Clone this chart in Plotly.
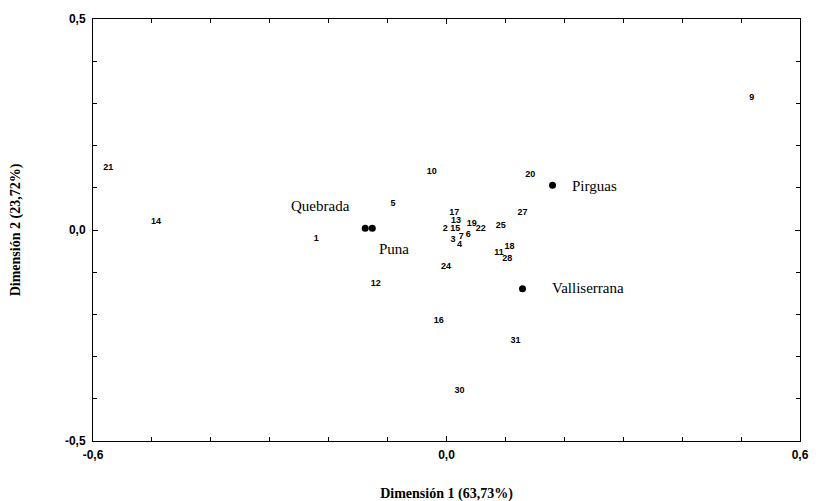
import plotly.graph_objects as go

# Numbered observations
obs_labels = ["21", "14", "1", "5", "12", "10", "17", "13", "2", "15", "7", "6", "3", "4",
              "19", "22", "25", "27", "18", "11", "28", "24", "20", "16", "31", "30", "9"]
obs_x = [-0.574, -0.493, -0.221, -0.091, -0.120, -0.025, 0.013, 0.016, -0.002, 0.015, 0.025, 0.037, 0.011, 0.022,
         0.043, 0.058, 0.092, 0.129, 0.107, 0.089, 0.103, -0.001, 0.142, -0.013, 0.117, 0.022, 0.518]
obs_y = [0.148, 0.019, -0.020, 0.063, -0.127, 0.137, 0.042, 0.022, 0.002, 0.002, -0.015, -0.011, -0.024, -0.036,
         0.014, 0.002, 0.011, 0.040, -0.039, -0.054, -0.068, -0.087, 0.132, -0.216, -0.263, -0.380, 0.313]

# Group centroids
group_names = ["Quebrada", "Puna", "Pirguas", "Valliserrana"]
group_x = [-0.138, -0.126, 0.180, 0.129]
group_y = [0.004, 0.004, 0.106, -0.139]

x_ticks = [-0.6, 0.0, 0.6]
x_ticktext = ["-0,6", "0,0", "0,6"]
y_ticks = [-0.5, 0.0, 0.5]
y_ticktext = ["-0,5", "0,0", "0,5"]

fig = go.Figure()
fig.add_trace(go.Scatter(
    x=obs_x, y=obs_y, mode="text", text=obs_labels, textposition="middle center",
    textfont=dict(family="Liberation Sans", size=9, color="black", weight="bold"),
    showlegend=False, hoverinfo="skip"))
fig.add_trace(go.Scatter(
    x=group_x, y=group_y, mode="markers",
    marker=dict(size=7, color="black"), showlegend=False, hoverinfo="skip"))

label_style = {
    "Quebrada": dict(xanchor="right", xshift=-13, yshift=22),
    "Puna": dict(xanchor="left", xshift=5, yshift=-21),
    "Pirguas": dict(xanchor="left", xshift=17, yshift=-1),
    "Valliserrana": dict(xanchor="left", xshift=27, yshift=1),
}
for name, gx, gy in zip(group_names, group_x, group_y):
    fig.add_annotation(x=gx, y=gy, text=name, showarrow=False, yanchor="middle",
                       font=dict(family="Liberation Serif", size=15, color="black"),
                       **label_style[name])

axis_common = dict(
    showgrid=False, zeroline=False, showline=True, linecolor="black", linewidth=1,
    mirror="allticks", ticks="inside", ticklen=5, tickcolor="black", automargin=False,
    tickfont=dict(family="Liberation Sans", size=12, color="black", weight="bold"),
)
fig.update_xaxes(range=[-0.6, 0.6], tickvals=x_ticks, ticktext=x_ticktext, ticklabelstandoff=3,
                 minor=dict(ticks="inside", dtick=0.1, tick0=0, ticklen=4, tickcolor="black"),
                 title=dict(text="Dimensión 1 (63,73%)", standoff=26,
                            font=dict(family="Liberation Serif", size=14, color="black", weight="bold")),
                 **axis_common)
fig.update_yaxes(range=[-0.5, 0.5], tickvals=y_ticks, ticktext=y_ticktext, ticklabelstandoff=4,
                 minor=dict(ticks="inside", dtick=0.1, tick0=0, ticklen=4, tickcolor="black"),
                 title=dict(text="Dimensión 2 (23,72%)", standoff=42,
                            font=dict(family="Liberation Serif", size=14, color="black", weight="bold")),
                 **axis_common)

fig.update_layout(
    width=823, height=501,
    margin=dict(l=85, r=31, t=11, b=68),
    plot_bgcolor="white", paper_bgcolor="white",
)

fig.write_html("out.html")
